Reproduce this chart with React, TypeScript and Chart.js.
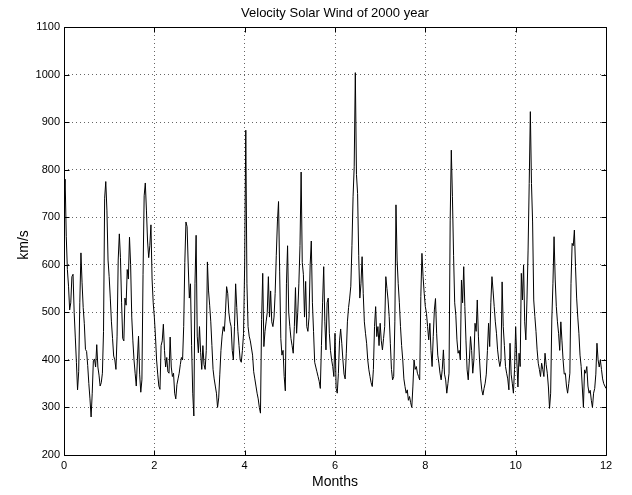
import React, { useEffect, useRef } from "react";
import { Chart, registerables } from "chart.js";

Chart.register(...registerables);

const jan = [740, 780, 660, 590, 555, 505, 520, 575, 580, 500, 448, 395, 337, 375, 520, 625, 562, 510, 476, 422, 418, 388, 350, 318, 280, 330, 398, 402, 385, 432, 385, 368, 345, 352, 372, 460, 740, 775, 715, 610];
const feb = [575, 530, 480, 445, 408, 400, 380, 450, 610, 665, 615, 520, 445, 440, 530, 515, 590, 570, 658, 600, 490, 440, 400, 372, 345, 400, 450, 370, 332, 358, 580, 745, 772, 715, 650, 615, 640, 684, 570, 520];
const mar = [490, 450, 400, 370, 345, 338, 430, 440, 475, 420, 385, 405, 375, 372, 448, 385, 365, 372, 330, 318, 348, 360, 372, 390, 405, 400, 470, 605, 690, 680, 600, 530, 560, 430, 330, 282, 560, 662, 450, 415];
const apr = [470, 415, 380, 430, 390, 380, 420, 606, 545, 515, 480, 430, 380, 360, 345, 330, 300, 320, 370, 420, 450, 470, 460, 500, 554, 540, 500, 480, 470, 420, 400, 470, 560, 510, 460, 430, 400, 395, 420, 455];
const may = [600, 883, 560, 470, 450, 440, 425, 410, 375, 360, 345, 330, 318, 300, 288, 485, 582, 428, 460, 480, 500, 575, 490, 545, 480, 470, 490, 540, 620, 690, 733, 585, 445, 410, 420, 365, 335, 560, 640, 500];
const jun = [470, 445, 430, 414, 470, 552, 456, 500, 560, 640, 795, 605, 580, 490, 565, 470, 460, 490, 600, 650, 520, 460, 395, 385, 375, 365, 355, 340, 430, 520, 596, 480, 421, 520, 530, 456, 420, 400, 386, 365];
const jul = [456, 340, 330, 371, 440, 465, 435, 400, 370, 360, 414, 480, 510, 530, 555, 640, 743, 806, 1004, 790, 750, 620, 530, 560, 617, 540, 480, 456, 435, 400, 379, 365, 352, 344, 380, 470, 512, 449, 470, 430];
const aug = [477, 440, 421, 445, 470, 575, 550, 526, 491, 435, 380, 358, 365, 480, 726, 610, 560, 520, 470, 430, 400, 360, 344, 330, 337, 315, 323, 310, 300, 345, 400, 380, 386, 372, 365, 358, 533, 624, 575, 540];
const sep = [512, 498, 470, 442, 477, 420, 386, 449, 505, 529, 456, 410, 393, 372, 358, 380, 421, 370, 358, 330, 350, 372, 694, 841, 743, 620, 520, 494, 442, 414, 420, 400, 568, 520, 596, 512, 440, 379, 358, 400];
const oct = [449, 420, 372, 400, 477, 460, 526, 450, 400, 360, 337, 326, 340, 351, 370, 420, 477, 428, 520, 575, 545, 512, 480, 456, 421, 400, 386, 400, 564, 470, 430, 386, 372, 360, 337, 435, 370, 351, 330, 380];
const nov = [470, 400, 343, 414, 386, 582, 526, 600, 480, 442, 526, 631, 771, 922, 771, 690, 526, 491, 460, 421, 393, 380, 365, 393, 380, 365, 414, 390, 372, 343, 298, 330, 484, 560, 659, 570, 512, 480, 456, 420];
const dec = [480, 440, 400, 370, 372, 345, 330, 350, 372, 560, 645, 640, 673, 596, 530, 490, 456, 410, 386, 343, 300, 379, 372, 386, 345, 330, 336, 315, 300, 330, 340, 370, 435, 400, 385, 400, 380, 360, 350, 345];
const yearEndValue = 340;

const monthlySeries = [jan, feb, mar, apr, may, jun, jul, aug, sep, oct, nov, dec];

const xTickValues = [0, 2, 4, 6, 8, 10, 12];
const yTickValues = [200, 300, 400, 500, 600, 700, 800, 900, 1000, 1100];

const TITLE = "Velocity Solar Wind of 2000 year";
const X_LABEL = "Months";
const Y_LABEL = "km/s";

const FONT = '"Liberation Sans", Arial, Helvetica, sans-serif';

function buildPoints() {
  const pts: { x: number; y: number }[] = [];
  monthlySeries.forEach((arr, m) => {
    arr.forEach((v, i) => pts.push({ x: m + i / arr.length, y: v }));
  });
  pts.push({ x: 12, y: yearEndValue });
  return pts;
}

const framePlugin = {
  id: "matlabFrame",
  afterDraw(chart: any) {
    const { ctx, chartArea, scales } = chart;
    const xs = scales.x;
    const ys = scales.y;
    const L = Math.round(chartArea.left) + 0.5;
    const R = Math.round(chartArea.right) + 0.5;
    const T = Math.round(chartArea.top) + 0.5;
    const B = Math.round(chartArea.bottom) + 0.5;
    ctx.save();
    ctx.strokeStyle = "#000";
    ctx.lineWidth = 1;
    ctx.setLineDash([]);
    ctx.beginPath();
    ctx.moveTo(L, T);
    ctx.lineTo(R, T);
    ctx.lineTo(R, B);
    ctx.lineTo(L, B);
    ctx.closePath();
    ctx.stroke();
    const tl = 5;
    ctx.beginPath();
    xTickValues.forEach((v) => {
      const px = Math.round(xs.getPixelForValue(v)) + 0.5;
      ctx.moveTo(px, B);
      ctx.lineTo(px, B - tl);
      ctx.moveTo(px, T);
      ctx.lineTo(px, T + tl);
    });
    yTickValues.forEach((v) => {
      const py = Math.round(ys.getPixelForValue(v)) + 0.5;
      ctx.moveTo(L, py);
      ctx.lineTo(L + tl, py);
      ctx.moveTo(R, py);
      ctx.lineTo(R - tl, py);
    });
    ctx.stroke();

    const cx = (chartArea.left + chartArea.right) / 2;
    const cy = (chartArea.top + chartArea.bottom) / 2;
    ctx.fillStyle = "#000";
    ctx.textAlign = "center";
    ctx.textBaseline = "middle";
    ctx.font = `13px ${FONT}`;
    ctx.fillText(TITLE, cx, 13);
    ctx.font = `14px ${FONT}`;
    ctx.fillText(X_LABEL, cx, 482);
    ctx.save();
    ctx.translate(24, cy + 4);
    ctx.rotate(-Math.PI / 2);
    ctx.fillText(Y_LABEL, 0, 0);
    ctx.restore();
    ctx.restore();
  },
};

export default function App() {
  const canvasRef = useRef<HTMLCanvasElement | null>(null);

  useEffect(() => {
    document.body.style.margin = "0";
    const canvas = canvasRef.current;
    if (!canvas) return;
    const chart = new Chart(canvas, {
      type: "line",
      data: {
        datasets: [
          {
            data: buildPoints(),
            borderColor: "#000",
            borderWidth: 1,
            pointRadius: 0,
            tension: 0,
            fill: false,
          },
        ],
      },
      options: {
        animation: false,
        responsive: false,
        maintainAspectRatio: false,
        devicePixelRatio: 1,
        layout: { padding: { top: 27, right: 26, left: 0, bottom: 0 } },
        plugins: {
          legend: { display: false },
          tooltip: { enabled: false },
          title: { display: false },
        },
        scales: {
          x: {
            type: "linear",
            min: 0,
            max: 12,
            afterBuildTicks: (s: any) => {
              s.ticks = xTickValues.map((v) => ({ value: v }));
            },
            afterFit: (s: any) => {
              s.height = 40;
            },
            ticks: {
              color: "#000",
              font: { family: FONT, size: 11 },
              padding: 4,
              maxRotation: 0,
              autoSkip: false,
              callback: (v: any) => String(v),
            },
            grid: { color: "#666", lineWidth: 1, drawTicks: false },
            border: { display: false, dash: [1, 3] },
          },
          y: {
            type: "linear",
            min: 200,
            max: 1100,
            afterBuildTicks: (s: any) => {
              s.ticks = yTickValues.map((v) => ({ value: v }));
            },
            afterFit: (s: any) => {
              s.width = 64;
            },
            ticks: {
              color: "#000",
              font: { family: FONT, size: 11 },
              padding: 4,
              autoSkip: false,
              callback: (v: any) => String(v),
            },
            grid: { color: "#666", lineWidth: 1, drawTicks: false },
            border: { display: false, dash: [1, 3] },
          },
        },
      },
      plugins: [framePlugin],
    });
    return () => chart.destroy();
  }, []);

  return (
    <div style={{ width: 632, height: 495, background: "#fff" }}>
      <canvas ref={canvasRef} width={632} height={495} style={{ display: "block", width: 632, height: 495 }} />
    </div>
  );
}
